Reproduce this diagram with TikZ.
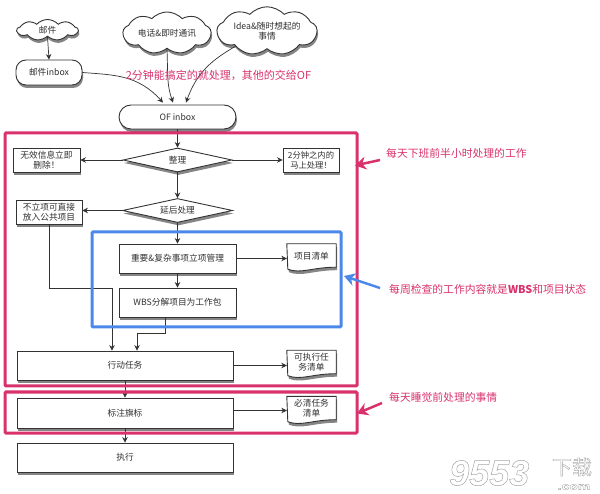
\documentclass[tikz,border=0pt]{standalone}
\usepackage{fontspec}
\setmainfont{Noto Sans CJK SC}
\newfontfamily\markfont{Liberation Sans}
\usetikzlibrary{shapes.symbols,shapes.geometric,shapes.misc,shadows,arrows.meta,backgrounds}
\definecolor{framepink}{HTML}{D8316C}
\definecolor{frameblue}{HTML}{4C88EA}
\definecolor{inkline}{HTML}{333333}
\definecolor{inktext}{HTML}{303030}
\tikzset{
  softshadow/.style={general shadow={shadow xshift=1pt,shadow yshift=-3pt,fill=black!60,opacity=.8}},
  item/.style={draw=inkline,line width=.9pt,fill=white,softshadow,align=center,font=\fontsize{8.7}{10}\selectfont,
    text=inktext,inner sep=0pt},
  stepbox/.style={item,rectangle},
  choice/.style={item,diamond,aspect=4.5,inner sep=0pt},
  pill/.style={item,rounded rectangle},
  softbox/.style={item,rectangle,rounded corners=10pt},
  puff/.style={item,cloud,cloud puffs=9,cloud puff arc=95,aspect=2.6},
  sheet/.style={rectangle,align=center,font=\fontsize{8.7}{10}\selectfont,text=inktext,inner sep=0pt},
  sheetpath/.style={draw=inkline,line width=.9pt,fill=white,softshadow},
  link/.style={draw=inkline,line width=.7pt,-{Stealth[length=5.5pt,width=5.5pt]}},
  frame/.style={line width=3pt,rounded corners=1pt},
  remark/.style={font=\fontsize{10.8}{12}\selectfont,text=framepink,inner sep=0pt},
  pointer/.style={line width=2.5pt,-{Stealth[length=11pt,width=13pt]}},
}
\begin{document}
\begin{tikzpicture}[x=1pt,y=-1pt]
\useasboundingbox (0,0) rectangle (600,494);

% Sources
\node[puff,minimum width=61pt,minimum height=21pt] (mail) at (47.5,30) {邮件};
\node[softbox,minimum width=66pt,minimum height=25pt] (mailbox) at (49,72.5) {邮件inbox};
\node[puff,minimum width=88pt,minimum height=32pt] (phone) at (167,33) {电话\&即时通讯};
\node[puff,minimum width=100pt,minimum height=38pt] (idea) at (267,31) {Idea\&随时想起的\\事情};
\node[pill,minimum width=117pt,minimum height=24pt] (ofin) at (177.5,117) {OF inbox};

% Daily sorting
\node[choice,minimum width=109pt,minimum height=24pt] (sort) at (177.5,160) {整理};
\node[stepbox,minimum width=67pt,minimum height=24pt] (junk) at (46.5,160) {无效信息立即\\删除！};
\node[stepbox,minimum width=56pt,minimum height=24pt,font=\fontsize{8.3}{10}\selectfont] (quick) at (311,160) {2分钟之内的\\马上处理！};
\node[choice,minimum width=110pt,minimum height=24pt] (defer) at (177.5,210.5) {延后处理};
\node[stepbox,minimum width=66pt,minimum height=24pt] (noproj) at (49,212) {不立项可直接\\放入公共项目};

% Weekly review
\node[stepbox,minimum width=117pt,minimum height=29pt] (proj) at (177.5,258.5) {重要\&复杂事项立项管理};
\node[stepbox,minimum width=117pt,minimum height=29pt] (wbs) at (177.5,302.5) {WBS分解项目为工作包};
\node[sheet,minimum width=49pt,minimum height=27pt] (projlist) at (311.5,257.5) {};
\node[sheet] (projlabel) at (311.5,256) {项目清单};

% Tasks and execution
\node[stepbox,minimum width=216pt,minimum height=29pt] (action) at (125,365.5) {行动任务};
\node[sheet,minimum width=49pt,minimum height=27pt] (actlist) at (311.5,364) {};
\node[sheet] (actlabel) at (311.5,362.5) {可执行任\\务清单};
\node[stepbox,minimum width=216pt,minimum height=30pt] (flag) at (125,413) {标注旗标};
\node[sheet,minimum width=49pt,minimum height=27pt] (duelist) at (311.5,410) {};
\node[sheet] (duelabel) at (311.5,408.5) {必清任务\\清单};
\node[stepbox,minimum width=216pt,minimum height=29pt] (run) at (125,457.5) {执行};

% Paper-shaped outputs with a wavy lower edge
\begin{scope}[on background layer]
  \foreach \s in {projlist,actlist,duelist}{
    \draw[sheetpath] (\s.north west) -- (\s.north east) -- ([yshift=4pt]\s.south east)
      .. controls ([xshift=-24pt,yshift=4pt]\s.south east) and ([xshift=14pt,yshift=-3pt]\s.south west) .. ([xshift=1pt,yshift=2pt]\s.south west)
      -- cycle;
  }
\end{scope}

% Flow into the inbox
\draw[link] (mail.south) -- (mailbox.north);
\draw[link] (mailbox.east) .. controls (115,75) and (138,75) .. ([xshift=-14.5pt,yshift=2pt]ofin.north);
\draw[link] (phone.south) .. controls ([xshift=1pt,yshift=-30pt]phone.south) and (167,85) .. ([xshift=-4.5pt,yshift=2pt]ofin.north);
\draw[link] (idea.south west) .. controls (212,60) and (197,72) .. ([xshift=8.5pt,yshift=2pt]ofin.north);

% Main flow
\draw[link] (ofin.south) -- (sort.north);
\draw[link] (sort.west) -- (junk.east);
\draw[link] (sort.east) -- (quick.west);
\draw[link] (sort.south) -- (defer.north);
\draw[link] (defer.west) -- (noproj.east |- defer.west);
\draw[link] (defer.south) -- (proj.north);
\draw[link] (proj.south) -- (wbs.north);
\draw[link] (proj.east) -- (proj.east -| projlist.west);
\draw[link] (noproj.south) -- ++(0,64) -| ([xshift=-13pt]action.north);
\draw[link] ([xshift=-12pt]wbs.south) -- ++(0,16) -| ([xshift=12pt]action.north);
\draw[link] (action.east) -- (action.east -| actlist.west);
\draw[link] (action.south) -- (flag.north);
\draw[link] ([yshift=2.5pt]flag.east) -- ([yshift=2.5pt]flag.east -| duelist.west);
\draw[link] (flag.south) -- (run.north);

% Review frames
\node[draw=framepink,frame,minimum width=352pt,minimum height=253pt,inner sep=0pt] (dayframe) at (181,259.5) {};
\node[draw=framepink,frame,minimum width=352pt,minimum height=41pt,inner sep=0pt] (nightframe) at (181,412.5) {};
\node[draw=frameblue,frame,minimum width=249pt,minimum height=95pt,inner sep=0pt] (weekframe) at (216.5,279.5) {};

% Notes beside the frames
\node[remark,font=\fontsize{11}{12}\selectfont] (note2min) at (218.5,75) {2分钟能搞定的就处理，其他的交给OF};
\node[remark,anchor=west] (noteday) at (386,153) {每天下班前半小时处理的工作};
\node[remark,anchor=west] (noteweek) at (389,289) {每周检查的工作内容就是\textbf{WBS}和项目状态};
\node[remark,anchor=west] (notenight) at (389,397) {每天睡觉前处理的事情};
\coordinate (daytail) at (380,160);
\coordinate (daytip) at (355,165.5);
\coordinate (weektail) at (380,288);
\coordinate (weektip) at (344,276);
\coordinate (nighttail) at (382,403);
\coordinate (nighttip) at (357,413.5);
\draw[pointer,framepink] (daytail) -- (daytip);
\draw[pointer,frameblue] (weektail) -- (weektip);
\draw[pointer,framepink] (nighttail) -- (nighttip);

% Site mark in the corner, set as outlined glyphs
\node[inner sep=0pt,text=black!35,anchor=west] (sitemark) at (449,473)
  {\special{pdf:code 1 Tr 0.5 w}\markfont\bfseries\itshape\fontsize{36}{36}\selectfont 9553\special{pdf:code 0 Tr}};
\node[inner sep=0pt,text=black!35,font=\fontsize{20}{20}\selectfont] (sitecn) at (572,467)
  {\special{pdf:code 1 Tr 0.4 w}下载\special{pdf:code 0 Tr}};
\node[inner sep=0pt,text=black!35,font=\markfont\bfseries\fontsize{10}{10}\selectfont,xscale=1.4] (sitecom) at (574,487)
  {\special{pdf:code 1 Tr 0.3 w}.com\special{pdf:code 0 Tr}};
\end{tikzpicture}
\end{document}
